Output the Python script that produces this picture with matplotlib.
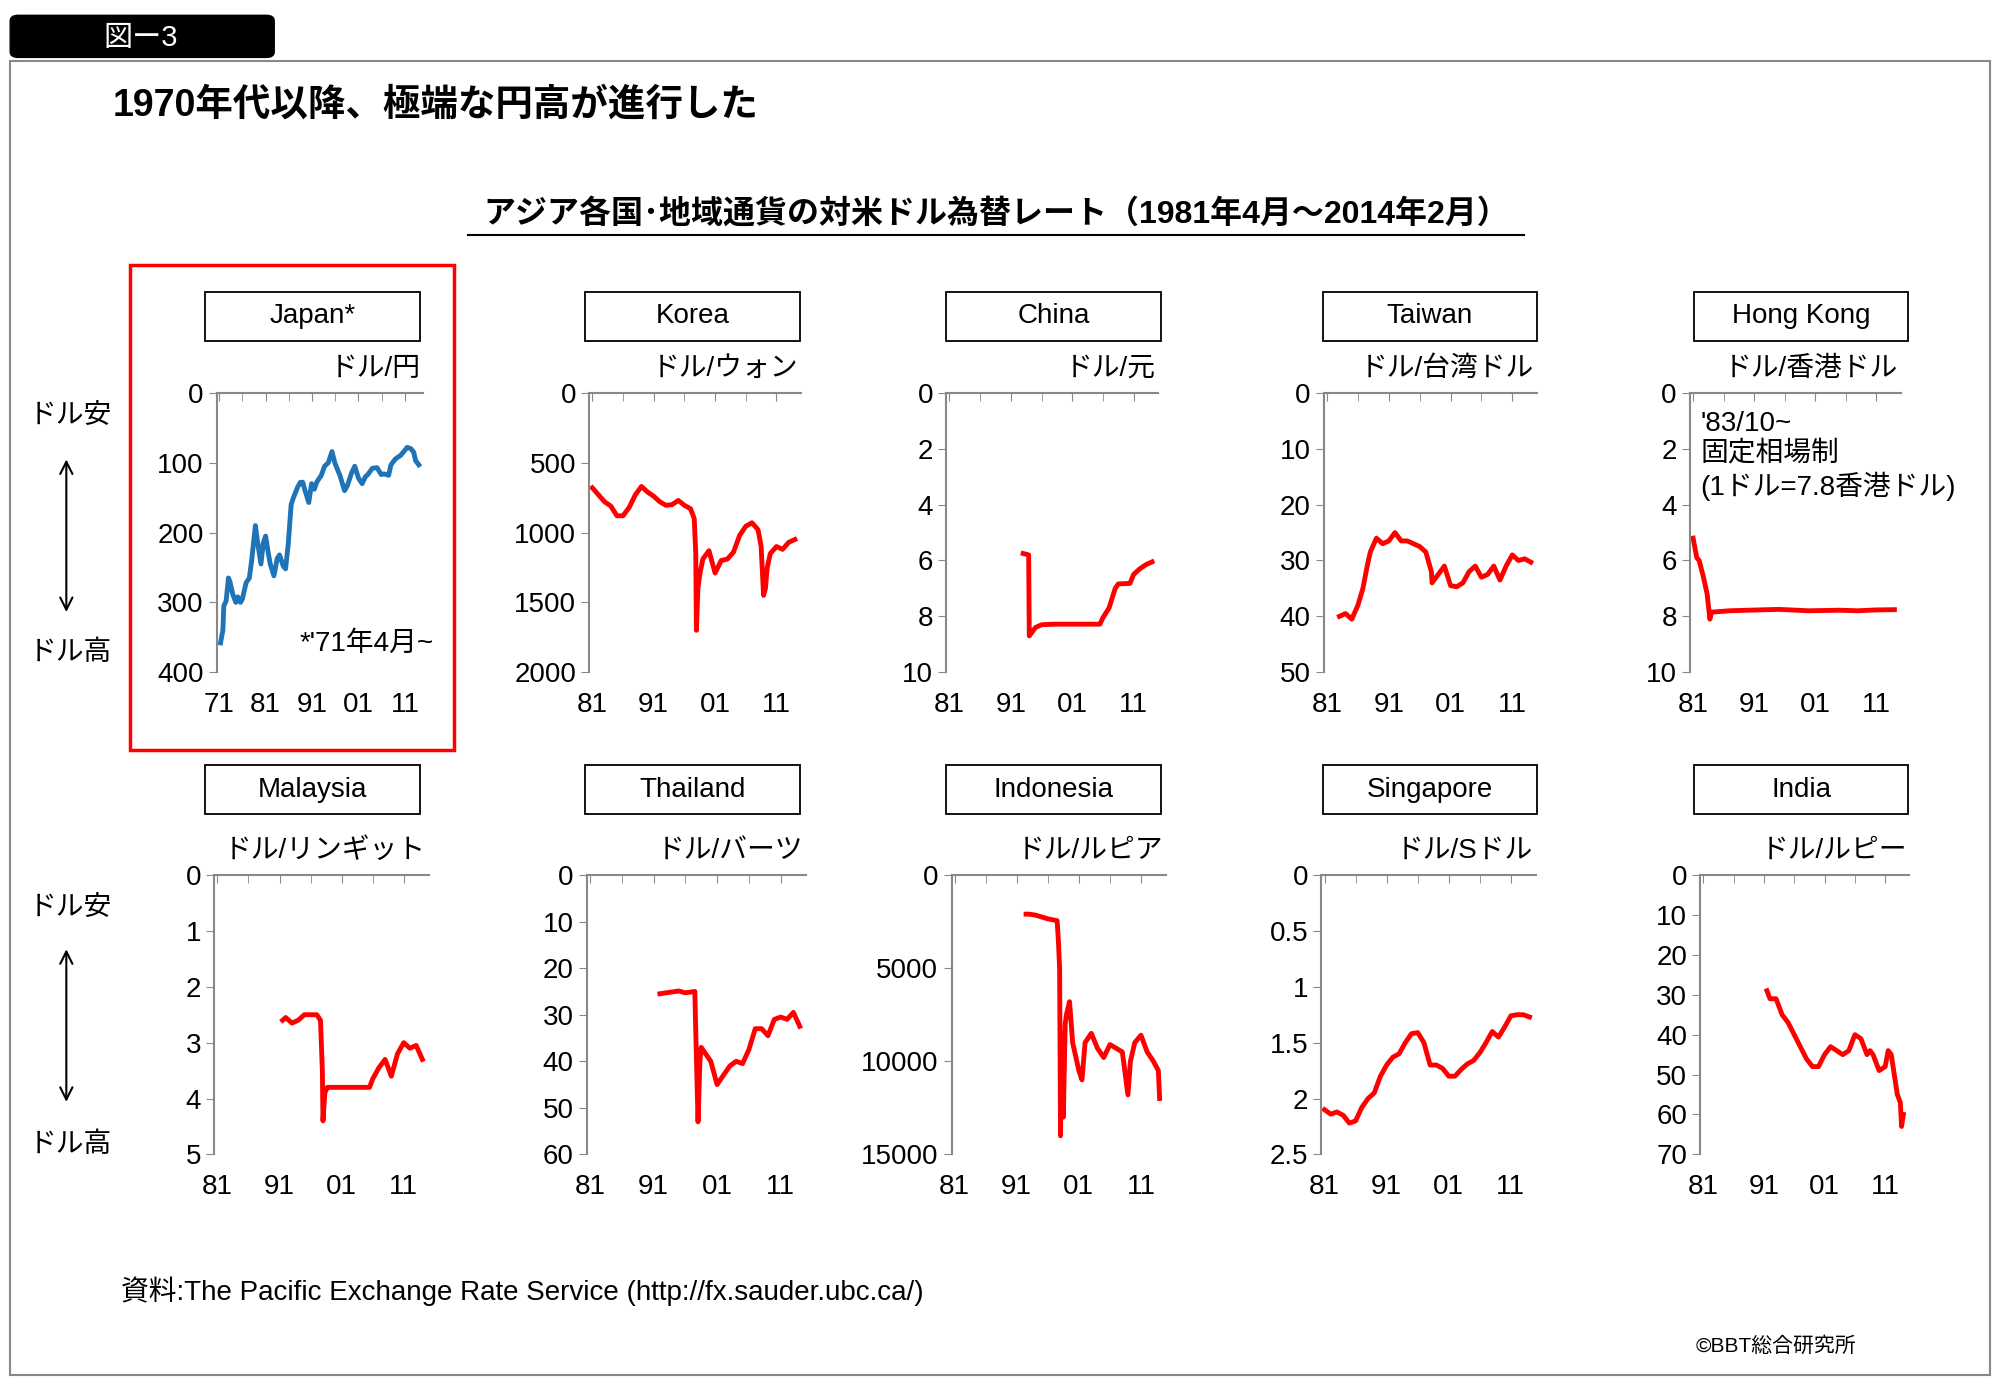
import matplotlib
matplotlib.use("Agg")
import matplotlib.pyplot as plt
from matplotlib.patches import Rectangle, FancyBboxPatch

plt.rcParams['font.family'] = ['Liberation Sans', 'Noto Sans CJK JP', 'DejaVu Sans']

W, H = 1568.0, 1085.0
def fx(x): return x / W
def fy(y): return 1 - y / H

fig = plt.figure(figsize=(20, 13.84), dpi=100)
fig.patch.set_facecolor('white')

BLUE = '#1f73b7'
RED = '#ff0000'

# panels: name, unit, (x0, x1, ytop, ybot), xstart, ylim, yticks, ticklabels, data(x,y), color
panels = [
    ("Japan*", "ドル/円", (170, 332, 308, 527), 1971, (400, 0), [0, 100, 200, 300, 400], None,
     [1971.3, 1971.8, 1972, 1972.5, 1973, 1973.3, 1974, 1974.6, 1975, 1975.6, 1976, 1976.8, 1977.5, 1978, 1978.8, 1979.3, 1980, 1980.5,
      1981, 1981.6, 1982, 1982.8, 1983.5, 1984, 1984.8, 1985.3, 1985.9, 1986.5, 1987, 1987.9, 1988.5, 1989, 1989.5, 1990.3,
      1990.9, 1991.5, 1992, 1993, 1993.7, 1994.5, 1995.3, 1995.9, 1996.5, 1997, 1998, 1998.6, 1999.5, 2000.2, 2001, 2001.8,
      2002.5, 2003, 2004, 2005, 2005.9, 2006.5, 2007.5, 2008, 2008.9, 2009.5, 2010, 2010.9, 2011.5, 2012.3, 2012.9, 2013.3, 2014],
     [358, 340, 305, 298, 265, 270, 290, 300, 292, 300, 295, 272, 265, 240, 190, 215, 245, 215,
      205, 230, 245, 262, 237, 232, 248, 252, 215, 160, 150, 135, 128, 128, 140, 157,
      130, 138, 128, 118, 105, 100, 84, 100, 110, 118, 140, 133, 115, 105, 122, 130,
      120, 117, 108, 107, 117, 116, 118, 103, 95, 92, 90, 83, 78, 80, 85, 97, 103], BLUE),
    ("Korea", "ドル/ウォン", (462, 628, 308, 527), 1981, (2000, 0), [0, 500, 1000, 1500, 2000], None,
     [1981, 1982, 1983, 1984, 1985, 1986, 1987, 1988, 1989, 1990, 1991, 1992, 1993, 1994, 1995, 1996, 1997, 1997.6, 1997.85, 1997.95,
      1998.2, 1998.5, 1999, 2000, 2001, 2002, 2003, 2004, 2005, 2006, 2007, 2008, 2008.5, 2008.9, 2009.2, 2009.5, 2010, 2011, 2012, 2013, 2014],
     [680, 730, 780, 810, 880, 880, 820, 730, 670, 710, 740, 780, 805, 800, 770, 805, 830, 900, 1150, 1700,
      1400, 1300, 1190, 1130, 1290, 1200, 1190, 1140, 1020, 955, 930, 980, 1100, 1450, 1400, 1250, 1150, 1100, 1120, 1070, 1050], RED),
    ("China", "ドル/元", (742, 908, 308, 527), 1981, (10, 0), [0, 2, 4, 6, 8, 10], None,
     [1993, 1993.9, 1994.0, 1995, 1996, 1998, 2000, 2003, 2005.5, 2006, 2007, 2008, 2008.5, 2010.4, 2011, 2012, 2013, 2014],
     [5.75, 5.8, 8.7, 8.4, 8.3, 8.28, 8.28, 8.28, 8.28, 8.05, 7.7, 7.0, 6.84, 6.82, 6.5, 6.3, 6.15, 6.05], RED),
    ("Taiwan", "ドル/台湾ドル", (1038, 1205, 308, 527), 1981, (50, 0), [0, 10, 20, 30, 40, 50], None,
     [1983, 1984, 1985, 1986, 1986.8, 1987.5, 1988, 1989, 1990, 1991, 1992, 1993, 1994, 1995, 1996, 1997, 1997.9, 1998, 1999,
      2000, 2001, 2002, 2003, 2004, 2005, 2006, 2007, 2008, 2009, 2010, 2011, 2012, 2013, 2014],
     [40, 39.5, 40.5, 38, 35, 31, 28.5, 26, 27, 26.5, 25, 26.5, 26.5, 27, 27.5, 28.5, 32, 34, 32.5,
      31, 34.5, 34.7, 34, 32, 31, 33, 32.5, 31, 33.5, 31, 29, 30, 29.7, 30.3], RED),
    ("Hong Kong", "ドル/香港ドル", (1325, 1490, 308, 527), 1981, (10, 0), [0, 2, 4, 6, 8, 10], None,
     [1981, 1981.6, 1982, 1982.7, 1983.3, 1983.75, 1984, 1987, 1990, 1995, 2000, 2005, 2008, 2011, 2014],
     [5.2, 5.9, 6.0, 6.6, 7.2, 8.1, 7.85, 7.8, 7.78, 7.75, 7.8, 7.78, 7.8, 7.77, 7.76], RED),
    ("Malaysia", "ドル/リンギット", (168, 336, 686, 905), 1981, (5, 0), [0, 1, 2, 3, 4, 5], None,
     [1991.5, 1992, 1993, 1994, 1995, 1996, 1997, 1997.6, 1997.9, 1998.0, 1998.3, 1998.7, 2002, 2005.5, 2006, 2007, 2008,
      2009, 2010, 2011, 2012, 2013, 2014],
     [2.6, 2.55, 2.65, 2.6, 2.5, 2.5, 2.5, 2.6, 3.5, 4.4, 3.9, 3.8, 3.8, 3.8, 3.65, 3.45, 3.3, 3.6, 3.2, 3.0, 3.1, 3.05, 3.3], RED),
    ("Thailand", "ドル/バーツ", (460, 632, 686, 905), 1981, (60, 0), [0, 10, 20, 30, 40, 50, 60], None,
     [1992, 1993, 1994, 1995, 1996, 1997.5, 1997.6, 1998.0, 1998.3, 1998.5, 1999, 2000, 2001, 2002, 2003, 2004, 2005, 2006,
      2007, 2008, 2009, 2010, 2011, 2012, 2013, 2014],
     [25.5, 25.3, 25.1, 24.9, 25.3, 25, 31, 53, 40, 37, 38, 40, 45, 43, 41, 40, 40.5, 37.5, 33, 33, 34.5, 31, 30.5, 31, 29.5, 32.5], RED),
    ("Indonesia", "ドル/ルピア", (746, 914, 686, 905), 1981, (15000, 0), [0, 5000, 10000, 15000], None,
     [1992.5, 1993, 1994, 1995, 1996, 1997.5, 1997.7, 1997.9, 1998.05, 1998.2, 1998.5, 1998.8, 1999, 1999.5, 2000, 2001,
      2001.5, 2002, 2003, 2004, 2005, 2006, 2007, 2008, 2008.9, 2009.3, 2010, 2011, 2012, 2013, 2013.8, 2014],
     [2100, 2100, 2150, 2250, 2350, 2450, 3500, 5000, 14000, 8500, 13000, 8000, 7500, 6800, 9000, 10500,
      11000, 9000, 8500, 9300, 9800, 9100, 9300, 9500, 11800, 10000, 9000, 8600, 9500, 10000, 10500, 12000], RED),
    ("Singapore", "ドル/Sドル", (1036, 1204, 686, 905), 1981, (2.5, 0), [0, 0.5, 1, 1.5, 2, 2.5], ['0', '0.5', '1', '1.5', '2', '2.5'],
     [1981, 1982, 1983, 1984, 1985, 1986, 1987, 1988, 1989, 1990, 1991, 1992, 1993, 1994, 1995, 1996, 1997, 1998, 1999,
      2000, 2001, 2002, 2003, 2004, 2005, 2006, 2007, 2008, 2009, 2010, 2011, 2012, 2013, 2014],
     [2.1, 2.14, 2.12, 2.15, 2.22, 2.2, 2.08, 2.0, 1.95, 1.8, 1.7, 1.63, 1.6, 1.5, 1.42, 1.41, 1.5, 1.7, 1.7,
      1.73, 1.8, 1.8, 1.74, 1.69, 1.66, 1.59, 1.5, 1.4, 1.45, 1.36, 1.26, 1.25, 1.25, 1.27], RED),
    ("India", "ドル/ルピー", (1333, 1497, 686, 905), 1981, (70, 0), [0, 10, 20, 30, 40, 50, 60, 70], None,
     [1991.5, 1992, 1992.5, 1993, 1994, 1995, 1996, 1997, 1998, 1999, 2000, 2001, 2002, 2003, 2004, 2005, 2006, 2007, 2008,
      2008.5, 2009, 2010, 2011, 2011.5, 2012, 2013, 2013.5, 2013.7, 2014],
     [29, 31, 31, 31, 35, 37, 40, 43, 46, 48, 48, 45, 43, 44, 45, 44, 40, 41, 45, 44, 45, 49, 48, 44, 45, 55, 57, 63, 60], RED),
]

box_x = [161, 459, 742, 1037, 1328]

for i, (name, unit, (x0, x1, yt, yb), xstart, ylim, yticks, ylabels, xs, ys, col) in enumerate(panels):
    ax = fig.add_axes([fx(x0), fy(yb), fx(x1) - fx(x0), fy(yt) - fy(yb)])
    ax.plot(xs, ys, color=col, lw=3.5)
    ax.set_xlim(xstart - 0.5, 2015)
    ax.set_ylim(*ylim)
    ax.set_yticks(yticks)
    if ylabels:
        ax.set_yticklabels(ylabels)
    years = [1971, 1981, 1991, 2001, 2011] if xstart == 1971 else [1981, 1991, 2001, 2011]
    ax.set_xticks(years)
    ax.set_xticklabels([str(y)[2:] for y in years])
    ax.set_xticks(list(range(xstart, 2015, 5)), minor=True)
    for s in ['right', 'bottom']:
        ax.spines[s].set_visible(False)
    for s in ['left', 'top']:
        ax.spines[s].set_color('#888888')
        ax.spines[s].set_linewidth(1.5)
    ax.tick_params(axis='x', which='both', top=True, bottom=False, labeltop=False, labelbottom=True,
                   direction='in', length=6, color='#888888', labelsize=20, pad=14)
    ax.tick_params(axis='y', left=True, direction='out', length=6, color='#888888', labelsize=20)
    ax.set_facecolor('none')
    # title box, fixed size
    bx = box_x[i % 5]
    by = 229 if yt < 400 else 600
    fig.patches.append(Rectangle((fx(bx), fy(by + 38)), fx(168), fy(0) - fy(38),
                                 transform=fig.transFigure, fc='white', ec='black', lw=1.3))
    fig.text(fx(bx + 84), fy(by + 19), name, ha='center', va='center', fontsize=20)
    fig.text(fx(x1 - 2), fy(yt - 19), unit, ha='right', va='center', fontsize=20)

# Japan frame
fig.patches.append(Rectangle((fx(102), fy(588)), fx(356) - fx(102), fy(208) - fy(588),
                             transform=fig.transFigure, fill=False, ec=RED, lw=2.5))
fig.text(fx(340), fy(505), "*'71年4月~", ha='right', va='center', fontsize=20)
fig.text(fx(1333), fy(322), "'83/10~\n固定相場制\n(1ドル=7.8香港ドル)", ha='left', va='top',
         fontsize=20, linespacing=1.2)

# side labels
for top, bot, a0, a1 in [(326, 512, 358, 482), (712, 898, 742, 866)]:
    fig.text(fx(55), fy(top), "ドル安", ha='center', va='center', fontsize=20)
    fig.text(fx(55), fy(bot), "ドル高", ha='center', va='center', fontsize=20)
    fig.add_artist(matplotlib.patches.FancyArrowPatch((fx(52), fy(a0)), (fx(52), fy(a1)),
                   transform=fig.transFigure, arrowstyle='<->', mutation_scale=22, lw=1.5, color='black'))

# outer frame and header
fig.patches.append(Rectangle((fx(8), fy(1078)), fx(1560) - fx(8), fy(48) - fy(1078),
                             transform=fig.transFigure, fill=False, ec='#888888', lw=1.5))
fig.patches.append(FancyBboxPatch((fx(8), fy(45)), fx(215) - fx(8), fy(12) - fy(45),
                                  boxstyle='round,pad=0,rounding_size=0.004', transform=fig.transFigure,
                                  fc='black', ec='black'))
fig.text(fx(110), fy(30), "図ー3", ha='center', va='center', fontsize=21, color='white')
fig.text(fx(88), fy(83), "1970年代以降、極端な円高が進行した", ha='left', va='center', fontsize=27, fontweight='bold')
fig.text(fx(781), fy(168), "アジア各国･地域通貨の対米ドル為替レート（1981年4月～2014年2月）", ha='center', va='center',
         fontsize=23, fontweight='bold')
fig.add_artist(plt.Line2D([fx(367), fx(1195)], [fy(184), fy(184)], transform=fig.transFigure, color='black', lw=1.5))
fig.text(fx(95), fy(1012), "資料:The Pacific Exchange Rate Service (http://fx.sauder.ubc.ca/)", ha='left', va='center', fontsize=20)
fig.text(fx(1455), fy(1055), "©BBT総合研究所", ha='right', va='center', fontsize=15)

fig.savefig("out.png", dpi=100)
